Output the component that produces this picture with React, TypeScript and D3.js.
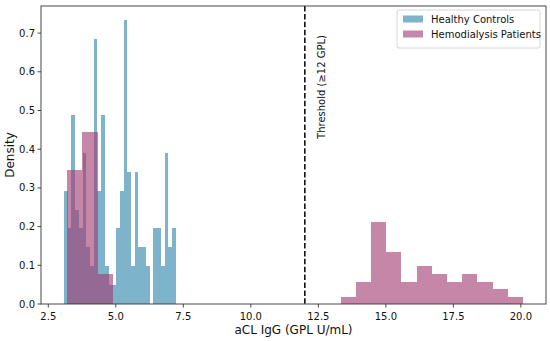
import React from 'react'
import * as d3 from 'd3'

// histogram bins (density per bin)
const healthyRange = [3.08, 7.22]
const healthyDensity = [
    0.293, 0.196, 0.489, 0.244, 0.196, 0.391, 0.147, 0.098, 0.684, 0.293,
    0.489, 0.098, 0.049, 0.049, 0.196, 0.293, 0.733, 0.342, 0.098, 0.342,
    0.147, 0.147, 0.098, 0, 0.196, 0.196, 0.098, 0.391, 0.147, 0.196,
]
const hemoRange = [3.2, 20.08]
const hemoDensity = [
    0.347, 0.444, 0.077, 0, 0, 0, 0, 0, 0, 0,
    0, 0, 0, 0, 0, 0, 0, 0, 0.019, 0.058,
    0.212, 0.135, 0.058, 0.097, 0.077, 0.058, 0.077, 0.058, 0.039, 0.019,
]
const xTicks = [2.5, 5, 7.5, 10, 12.5, 15, 17.5, 20]
const yTicks = [0, 0.1, 0.2, 0.3, 0.4, 0.5, 0.6, 0.7]
const threshold = 12
const seriesNames = ['Healthy Controls', 'Hemodialysis Patients']
const seriesColors = ['#2E86AB', '#A23B72']

const W = 550
const H = 341
const margin = { left: 41, right: 4, top: 6, bottom: 37 }
const font = 'DejaVu Sans, sans-serif'

export default function App() {
    const x = d3.scaleLinear().domain([2.23, 20.93]).range([margin.left, W - margin.right])
    const y = d3.scaleLinear().domain([0, 0.77]).range([H - margin.bottom, margin.top])

    const bars = (range: number[], dens: number[], color: string, key: string) => {
        const w = (range[1] - range[0]) / dens.length
        return dens.map((d, i) => {
            if (!d) return null
            const x0 = x(range[0] + i * w)
            const x1 = x(range[0] + (i + 1) * w)
            return <rect key={key + i} x={x0} width={x1 - x0} y={y(d)} height={y(0) - y(d)}
                fill={color} fillOpacity={0.62} shapeRendering="crispEdges" />
        })
    }

    const bottom = H - margin.bottom
    return (
        <svg width={W} height={H} style={{ position: 'absolute', left: 0, top: 0 }} fontFamily={font}>
            <rect width={W} height={H} fill="white" />
            {bars(healthyRange, healthyDensity, seriesColors[0], 'h')}
            {bars(hemoRange, hemoDensity, seriesColors[1], 'p')}

            <line x1={x(threshold)} x2={x(threshold)} y1={margin.top} y2={bottom}
                stroke="black" strokeWidth={1.5} strokeDasharray="5.5,2.4" />
            <text transform={`translate(${x(threshold) + 20}, 87) rotate(-90)`} textAnchor="middle"
                fontSize={10} fill="#111">Threshold (≥12 GPL)</text>

            {/* axes frame */}
            <rect x={margin.left} y={margin.top} width={W - margin.right - margin.left}
                height={bottom - margin.top} fill="none" stroke="#333" strokeWidth={0.9} />

            {xTicks.map(t => (
                <g key={'x' + t} transform={`translate(${x(t)},${bottom})`}>
                    <line y2={3.5} stroke="#333" strokeWidth={0.9} />
                    <text y={16} textAnchor="middle" fontSize={10} fill="#111">{d3.format('.1f')(t)}</text>
                </g>
            ))}
            {yTicks.map(t => (
                <g key={'y' + t} transform={`translate(${margin.left},${y(t)})`}>
                    <line x2={-3.5} stroke="#333" strokeWidth={0.9} />
                    <text x={-6} dy="0.35em" textAnchor="end" fontSize={10} fill="#111">{d3.format('.1f')(t)}</text>
                </g>
            ))}

            <text x={(margin.left + W - margin.right) / 2} y={334} textAnchor="middle" fontSize={12} fill="#111">
                aCL IgG (GPL U/mL)
            </text>
            <text transform={`translate(14, ${(margin.top + bottom) / 2}) rotate(-90)`} textAnchor="middle"
                fontSize={12} fill="#111">Density</text>

            {/* legend */}
            <g transform="translate(397, 10)">
                <rect width={143} height={38} rx={2} fill="white" fillOpacity={0.8} stroke="#ccc" strokeWidth={0.8} />
                {seriesNames.map((n, i) => (
                    <g key={n} transform={`translate(6, ${9 + i * 15})`}>
                        <rect width={20} height={7} y={-3.5} fill={seriesColors[i]} fillOpacity={0.62} />
                        <text x={28} dy="0.35em" fontSize={10} fill="#111">{n}</text>
                    </g>
                ))}
            </g>
        </svg>
    )
}
